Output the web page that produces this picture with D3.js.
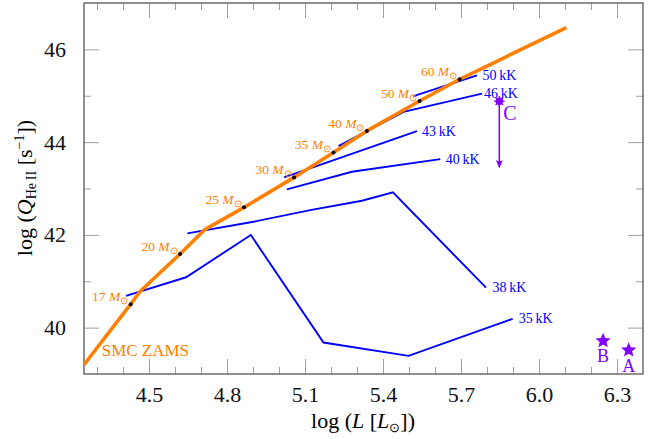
<!DOCTYPE html>
<html>
<head>
<meta charset="utf-8">
<script src="https://cdn.jsdelivr.net/npm/d3@7"></script>
<style>
	body { margin: 0; background: #fff; }
	text { font-family: 'Liberation Serif', 'Times New Roman', serif; }
</style>
</head>
<body>
<div id="chart-area"></div>
<script>

//**************** Data *****************//

// SMC zero-age main sequence
let zamsL = [4.25, 4.4297, 4.4655, 4.6195, 4.7157, 4.8658, 5.058, 5.2096, 5.338, 5.5406, 5.6946, 6.105];
let zamsQ = [39.2, 40.505, 40.78, 41.588, 42.12, 42.593, 43.239, 43.777, 44.242, 44.888, 45.355, 46.468];

// mass markers on the ZAMS
let massLabels = [17, 20, 25, 30, 35, 40, 50, 60];
let massL = [4.4297, 4.6195, 4.8658, 5.058, 5.2096, 5.338, 5.5406, 5.6946];
let massQ = [40.505, 41.588, 42.593, 43.239, 43.777, 44.242, 44.888, 45.355];

// constant temperature tracks
let trackNames = ['50', '46', '43', '40', '38', '35'];
let trackL = [
	[5.5175, 5.7615],
	[5.2288, 5.479, 5.7808],
	[5.0198, 5.5306],
	[5.0302, 5.2804, 5.6203],
	[4.6476, 4.9017, 5.1199, 5.3189, 5.4382, 5.7962],
	[4.4117, 4.6426, 4.8917, 5.1711, 5.4983, 5.8986]
];
let trackQ = [
	[44.99, 45.44],
	[43.913, 44.651, 45.047],
	[43.239, 44.236],
	[42.98, 43.36, 43.633],
	[42.033, 42.283, 42.535, 42.735, 42.916, 40.862],
	[40.684, 41.086, 41.997, 39.678, 39.392, 40.188]
];

// observed stars
let starNames = ['B', 'A'];
let starL = [6.2465, 6.345];
let starQ = [39.736, 39.536];

// star C with upper limit
let cL = 5.8474;
let cQ = 44.882;
let cQlow = 43.433;

// ticks
let xMajor = [4.5, 4.8, 5.1, 5.4, 5.7, 6.0, 6.3];
let xMinor = [4.3, 4.4, 4.6, 4.7, 4.9, 5.0, 5.2, 5.3, 5.5, 5.6, 5.8, 5.9, 6.1, 6.2];
let yMajor = [40, 42, 44, 46];
let yMinor = [41, 43, 45];


//**************** Canvas *****************//

let margin = { left:84, right:17, top:3, bottom:65 };

let width = 660 - margin.left - margin.right,
	height = 439 - margin.top - margin.bottom;

let svg = d3.select('#chart-area').append('svg')
	.attr('width', width + margin.left + margin.right)
	.attr('height', height + margin.top + margin.bottom);

let g = svg.append('g')
	.attr('transform', 'translate(' + margin.left + ', ' + margin.top + ')');

let orange = '#ff8000',
	blue = '#0000ff',
	violet = '#7f00ff';


//**************** Scales & Axes *****************//

let x = d3.scaleLinear()
	.domain([4.25, 6.4])
	.range([0, width]);

let y = d3.scaleLinear()
	.domain([39, 47])
	.range([height, 0]);

function styleAxis(sel) {
	sel.select('.domain').remove();
	sel.selectAll('line').attr('stroke', '#a0a0a0');
	sel.selectAll('text')
		.attr('font-size', '22px')
		.attr('fill', '#111')
		.attr('font-family', "'Liberation Serif', serif");
}

// bottom
g.append('g')
	.attr('transform', 'translate(0, ' + height + ')')
	.call(d3.axisBottom(x).tickValues(xMinor).tickSize(-7).tickFormat(''))
	.call(styleAxis);
g.append('g')
	.attr('transform', 'translate(0, ' + height + ')')
	.call(d3.axisBottom(x).tickValues(xMajor).tickSize(-15).tickPadding(12)
		.tickFormat(d3.format('.1f')))
	.call(styleAxis);

// top
g.append('g')
	.call(d3.axisTop(x).tickValues(xMinor).tickSize(-7).tickFormat(''))
	.call(styleAxis);
g.append('g')
	.call(d3.axisTop(x).tickValues(xMajor).tickSize(-15).tickFormat(''))
	.call(styleAxis);

// left
g.append('g')
	.call(d3.axisLeft(y).tickValues(yMinor).tickSize(-7).tickFormat(''))
	.call(styleAxis);
g.append('g')
	.call(d3.axisLeft(y).tickValues(yMajor).tickSize(-15).tickPadding(18)
		.tickFormat(d3.format('d')))
	.call(styleAxis);

// right
g.append('g')
	.attr('transform', 'translate(' + width + ', 0)')
	.call(d3.axisRight(y).tickValues(yMinor).tickSize(-7).tickFormat(''))
	.call(styleAxis);
g.append('g')
	.attr('transform', 'translate(' + width + ', 0)')
	.call(d3.axisRight(y).tickValues(yMajor).tickSize(-15).tickFormat(''))
	.call(styleAxis);

// frame
g.append('rect')
	.attr('width', width)
	.attr('height', height)
	.attr('fill', 'none')
	.attr('stroke', '#555')
	.attr('stroke-width', 1.3);


//**************** Labels *****************//

let xLabel = g.append('text')
	.attr('x', 279)
	.attr('y', height + 54)
	.attr('font-size', '22px')
	.attr('text-anchor', 'middle');
xLabel.append('tspan').text('log (');
xLabel.append('tspan').attr('font-style', 'italic').text('L');
xLabel.append('tspan').text(' [');
xLabel.append('tspan').attr('font-style', 'italic').text('L');
xLabel.append('tspan').attr('font-size', '13px').attr('dy', 4).text('\u2299');
xLabel.append('tspan').attr('dy', -4).text('])');

let yLabel = g.append('text')
	.attr('transform', 'translate(-52, ' + 185 + ') rotate(-90)')
	.attr('font-size', '22px')
	.attr('text-anchor', 'middle');
yLabel.append('tspan').text('log (');
yLabel.append('tspan').attr('font-style', 'italic').text('Q');
yLabel.append('tspan').attr('font-size', '14px').attr('dy', 4).text('He\u2009II');
yLabel.append('tspan').attr('dy', -4).text(' [s');
yLabel.append('tspan').attr('font-size', '14px').attr('dy', -8).text('\u22121');
yLabel.append('tspan').attr('dy', 8).text('])');


//**************** Tracks *****************//

let line = d3.line()
	.x(d => x(d[0]))
	.y(d => y(d[1]));

let tracks = trackNames.map((name, i) => ({
	name: name,
	points: trackL[i].map((l, j) => [l, trackQ[i][j]])
}));

g.selectAll('.track')
	.data(tracks)
	.enter()
	.append('path')
		.attr('class', 'track')
		.attr('d', d => line(d.points))
		.attr('fill', 'none')
		.attr('stroke', blue)
		.attr('stroke-width', 1.9)
		.attr('stroke-linejoin', 'miter');

// label offsets from last point of each track
let trackDx = { '50': 5.5, '46': 2, '43': 5, '40': 5.5, '38': 6.5, '35': 6 };

g.selectAll('.track-label')
	.data(tracks)
	.enter()
	.append('text')
		.attr('class', 'track-label')
		.attr('x', d => x(d.points[d.points.length - 1][0]) + trackDx[d.name])
		.attr('y', d => y(d.points[d.points.length - 1][1]) + 4.5)
		.attr('font-size', '14px')
		.attr('fill', blue)
		.text(d => d.name + '\u2009kK');


//**************** ZAMS *****************//

g.append('path')
	.attr('d', line(zamsL.map((l, i) => [l, zamsQ[i]])))
	.attr('fill', 'none')
	.attr('stroke', orange)
	.attr('stroke-width', 3.6)
	.attr('stroke-linejoin', 'round');

let masses = massLabels.map((m, i) => ({ m: m, l: massL[i], q: massQ[i] }));

g.selectAll('.mass-dot')
	.data(masses)
	.enter()
	.append('circle')
		.attr('class', 'mass-dot')
		.attr('cx', d => x(d.l))
		.attr('cy', d => y(d.q))
		.attr('r', 2)
		.attr('fill', '#000');

let massText = g.selectAll('.mass-label')
	.data(masses)
	.enter()
	.append('text')
		.attr('class', 'mass-label')
		.attr('x', d => x(d.l) - 2.5)
		.attr('y', d => y(d.q) - 3)
		.attr('font-size', '13.5px')
		.attr('fill', orange)
		.attr('text-anchor', 'end');
massText.append('tspan').text(d => d.m + ' ');
massText.append('tspan').attr('font-style', 'italic').text('M');
massText.append('tspan').attr('font-size', '10px').attr('dy', 3).text('\u2299');

g.append('text')
	.attr('x', x(4.318))
	.attr('y', y(39.39))
	.attr('font-size', '17px')
	.attr('fill', orange)
	.text('SMC ZAMS');


//**************** Stars *****************//

// five pointed star, chunkier than d3.symbolStar
let starPath = d3.lineRadial()
	.angle((d, i) => i * Math.PI / 5)
	.radius((d, i) => i % 2 ? 3.6 : 8)
	.curve(d3.curveLinearClosed)(d3.range(10));

let stars = starNames.map((n, i) => ({ name: n, l: starL[i], q: starQ[i] }));

g.selectAll('.star')
	.data(stars)
	.enter()
	.append('path')
		.attr('class', 'star')
		.attr('d', starPath)
		.attr('transform', d => 'translate(' + x(d.l) + ', ' + (y(d.q) + 1) + ')')
		.attr('fill', violet);

g.selectAll('.star-label')
	.data(stars)
	.enter()
	.append('text')
		.attr('class', 'star-label')
		.attr('x', d => x(d.l))
		.attr('y', d => y(d.q) + 22.5)
		.attr('font-size', '18px')
		.attr('fill', violet)
		.attr('text-anchor', 'middle')
		.text(d => d.name);

// star C, upper limit arrow
let cx = x(cL), cy = y(cQ), cy2 = y(cQlow);

g.append('line')
	.attr('x1', cx).attr('x2', cx)
	.attr('y1', cy).attr('y2', cy2 - 6)
	.attr('stroke', violet)
	.attr('stroke-width', 1.5);

g.append('path')
	.attr('d', 'M' + cx + ',' + cy2 + ' L' + (cx - 3.4) + ',' + (cy2 - 8.5) +
		' Q' + cx + ',' + (cy2 - 6) + ' ' + (cx + 3.4) + ',' + (cy2 - 8.5) + ' Z')
	.attr('fill', violet);

g.append('circle')
	.attr('cx', cx)
	.attr('cy', cy)
	.attr('r', 3.8)
	.attr('fill', violet);

g.append('path')
	.attr('d', d3.range(8).map(k => {
		let a = k * Math.PI / 4;
		return 'M' + cx + ',' + cy + ' L' + (cx + 5.3 * Math.cos(a)) + ',' + (cy + 5.3 * Math.sin(a));
	}).join(' '))
	.attr('stroke', violet)
	.attr('stroke-width', 1.2);

g.append('text')
	.attr('x', cx + 4)
	.attr('y', cy + 18.5)
	.attr('font-size', '20px')
	.attr('fill', violet)
	.text('C');

</script>
</body>
</html>
